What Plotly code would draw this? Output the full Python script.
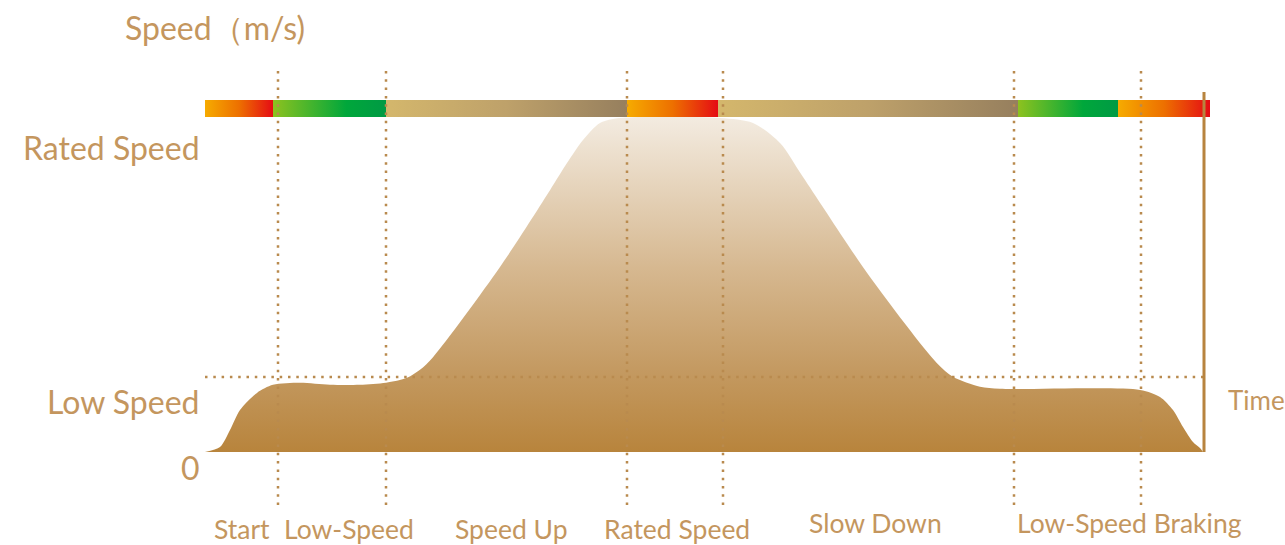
import plotly.graph_objects as go

# ---------------- data ----------------
# time axis: 0..100 (arbitrary units), speed axis: rated speed = 1
curve_t = [0, 1.5, 2.5, 3.5, 5.2, 6.8, 9.5, 12.5, 15.5, 18.1, 20.2, 21.5, 22.8, 29.5,
           34.5, 36.2, 37.8, 39.5, 41.5, 51.5, 54.8, 57.5, 59.8, 66.5,
           73.2, 74.8, 77.5, 79.5, 93.5, 95.5, 96.8, 97.8, 98.8, 99.5, 99.8]
curve_v = [0, 0.015, 0.066, 0.126, 0.177, 0.201, 0.207, 0.201, 0.201, 0.207, 0.222, 0.246,
           0.284, 0.554, 0.784, 0.865, 0.934, 0.985, 1.0, 1.0, 0.985, 0.925,
           0.823, 0.524, 0.266, 0.225, 0.195, 0.189, 0.186, 0.165, 0.126,
           0.075, 0.030, 0.012, 0.0]

rated_speed = 1.0
low_speed = 0.2246
time_end = 99.9

phase_bounds = [7.3, 18.1, 42.2, 51.8, 80.9, 93.6]
phase_labels = ["Start", "Low-Speed", "Speed Up", "Rated Speed", "Slow Down", "Low-Speed Braking"]
phase_label_t = [3.7, 14.4, 30.6, 47.2, 67.0, 92.4]
phase_label_row = [0, 0, 0, 0, 1, 1]

bar_edges = [0, 6.8, 18.1, 42.2, 51.3, 81.3, 91.3, 100.5]
bar_kinds = ["warm", "green", "tan", "warm", "tan", "green", "warm"]
bar_bottom = 1.003
bar_top = 1.054

speed_labels = ["0", "Low Speed", "Rated Speed"]
speed_label_v = [-0.045, 0.15, 0.913]

# ---------------- styles ----------------
TEXT = "#c4965e"
DOT = "#b98a4e"
FONT = "Lato"
scales = {
    "warm": [[0, "#f6ab00"], [0.5, "#ed7000"], [1, "#e50c14"]],
    "green": [[0, "#8dc21f"], [0.65, "#00a73b"], [1, "#009a44"]],
    "tan": [[0, "#d4b76c"], [0.5, "#bea16a"], [1, "#967f5e"]],
}

fig = go.Figure()

# area under the speed curve
fig.add_trace(go.Scatter(
    x=curve_t, y=curve_v, mode="lines", line=dict(width=0, shape="spline", smoothing=0.8),
    fill="tozeroy",
    fillgradient=dict(type="vertical", start=0, stop=rated_speed,
                      colorscale=[[0, "#b8843c"], [0.25, "#c49a62"], [0.55, "#d6b890"],
                                  [1, "#f3ebe0"]]),
    hoverinfo="skip", showlegend=False))

# top coloured phase bar
for i, kind in enumerate(bar_kinds):
    x0, x1 = bar_edges[i], bar_edges[i + 1]
    fig.add_trace(go.Scatter(
        x=[x0, x1, x1, x0, x0], y=[bar_bottom, bar_bottom, bar_top, bar_top, bar_bottom],
        mode="lines", line=dict(width=0), fill="toself",
        fillgradient=dict(type="horizontal", colorscale=scales[kind]),
        hoverinfo="skip", showlegend=False))

# dotted phase boundaries
for b in phase_bounds:
    fig.add_shape(type="line", x0=b, x1=b, y0=-0.159, y1=1.144, xref="x", yref="y",
                  line=dict(color=DOT, width=2.5, dash="2.5px,5.8px"), layer="above")
# dotted low speed line
fig.add_shape(type="line", x0=0, x1=time_end, y0=low_speed, y1=low_speed, xref="x", yref="y",
              line=dict(color=DOT, width=2.5, dash="2.5px,5.8px"), layer="above")
# time axis line
fig.add_shape(type="line", x0=time_end, x1=time_end, y0=0, y1=1.078, xref="x", yref="y",
              line=dict(color="#b8843f", width=3), layer="above")

ann = dict(showarrow=False, borderpad=0, borderwidth=0)

# speed labels
for lab, v in zip(speed_labels, speed_label_v):
    fig.add_annotation(x=-0.5, y=v, text=lab, xanchor="right", yanchor="middle",
                       font=dict(family=FONT, size=32, color=TEXT), **ann)
fig.add_annotation(x=1.0, y=1.27, text="Speed（m/s)", xanchor="center",
                   yanchor="middle", font=dict(family=FONT, size=32, color=TEXT), **ann)
fig.add_annotation(x=102.3, y=0.156, text="Time", xanchor="left",
                   yanchor="middle", font=dict(family=FONT, size=26, color=TEXT), **ann)

# phase labels
row_v = [-0.231, -0.213]
for lab, t, r in zip(phase_labels, phase_label_t, phase_label_row):
    fig.add_annotation(x=t, y=row_v[r], text=lab, xanchor="center",
                       yanchor="middle", font=dict(family=FONT, size=26.5, color=TEXT), **ann)

fig.update_layout(
    width=1285, height=545, margin=dict(l=0, r=0, t=0, b=0),
    paper_bgcolor="white", plot_bgcolor="white",
    xaxis=dict(range=[-20.5, 108], visible=False, fixedrange=True),
    yaxis=dict(range=[-93 / 334, 452 / 334], visible=False, fixedrange=True),
    showlegend=False, hovermode=False,
)
fig.write_html(
    "out.html",
    config={"displayModeBar": False},
    post_script="document.body.style.margin='0';document.documentElement.style.overflow='hidden';",
)
